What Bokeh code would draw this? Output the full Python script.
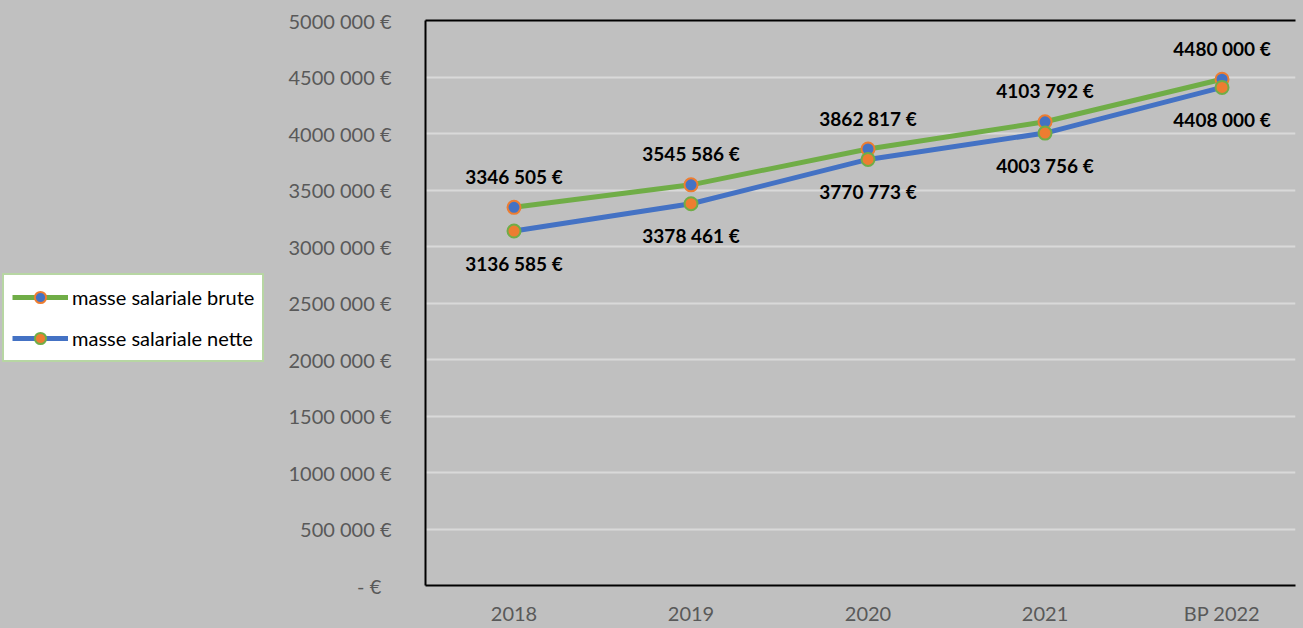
from bokeh.plotting import figure
from bokeh.models import (ColumnDataSource, FixedTicker, Range1d, Legend, LegendItem,
                          LinearAxis)
from bokeh.layouts import row
from bokeh.core.properties import value
from bokeh.embed import file_html
from bokeh.resources import INLINE

# Payroll totals per year (euros)
categories = ["2018", "2019", "2020", "2021", "BP 2022"]
brute = [3346505, 3545586, 3862817, 4103792, 4480000]
nette = [3136585, 3378461, 3770773, 4003756, 4408000]
y_ticks = [0, 500000, 1000000, 1500000, 2000000, 2500000, 3000000,
           3500000, 4000000, 4500000, 5000000]
series_names = ["masse salariale brute", "masse salariale nette"]


def euro(v):
    if v == 0:
        return "-   €"
    if v >= 1000:
        return f"{v // 1000} {v % 1000:03d} €"
    return f"{v} €"


GREEN = "#70ad47"
BLUE = "#4472c4"
ORANGE = "#ed7d31"
BG = "#c0c0c0"
FONT = "Lato"
H = 628
LEG_W = 280

xs = list(range(len(categories)))
src_b = ColumnDataSource(dict(x=xs, y=brute, lab=[euro(v) for v in brute]))
src_n = ColumnDataSource(dict(x=xs, y=nette, lab=[euro(v) for v in nette]))

# ---- main chart -------------------------------------------------------
p = figure(width=1303 - LEG_W, height=H, output_backend="svg", toolbar_location=None,
           x_range=Range1d(-0.5, 4.415), y_range=Range1d(0, 5000000),
           min_border_left=425 - LEG_W, min_border_right=8, min_border_top=20,
           min_border_bottom=43)
p.background_fill_color = BG
p.border_fill_color = BG
p.outline_line_color = None

p.xaxis.ticker = FixedTicker(ticks=xs)
p.xaxis.major_label_overrides = {i: c for i, c in enumerate(categories)}
p.yaxis.ticker = FixedTicker(ticks=y_ticks)
p.yaxis.major_label_overrides = {t: euro(t) for t in y_ticks}
for ax in (p.xaxis, p.yaxis):
    ax.axis_line_color = "black"
    ax.axis_line_width = 2
    ax.major_tick_line_color = None
    ax.minor_tick_line_color = None
    ax.major_label_text_font = FONT
    ax.major_label_text_font_size = "20px"
    ax.major_label_text_color = "#595959"
p.yaxis.major_label_standoff = 28
p.xaxis.major_label_standoff = 9

top = LinearAxis(ticker=FixedTicker(ticks=[]), axis_line_color="black",
                 axis_line_width=2, major_tick_line_color=None,
                 minor_tick_line_color=None)
p.add_layout(top, "above")

p.xgrid.grid_line_color = None
p.ygrid.grid_line_color = "#d9d9d9"
p.ygrid.grid_line_width = 2

p.line("x", "y", source=src_b, line_color=GREEN, line_width=5)
p.scatter("x", "y", source=src_b, size=13, fill_color=BLUE,
          line_color=ORANGE, line_width=2)
p.line("x", "y", source=src_n, line_color=BLUE, line_width=5)
p.scatter("x", "y", source=src_n, size=13, fill_color=ORANGE,
          line_color=GREEN, line_width=2)

p.text("x", "y", text="lab", source=src_b, y_offset=-31, text_align="center",
       text_baseline="middle", text_font=value(FONT), text_font_style="bold",
       text_font_size="19px", text_color="black")
p.text("x", "y", text="lab", source=src_n, y_offset=32, text_align="center",
       text_baseline="middle", text_font=value(FONT), text_font_style="bold",
       text_font_size="19px", text_color="black")

# ---- legend panel on the left ------------------------------------------
lg = figure(width=LEG_W, height=H, output_backend="svg", toolbar_location=None,
            x_range=Range1d(0, 1), y_range=Range1d(0, 1),
            x_axis_location=None, y_axis_location=None, min_border=0)
lg.background_fill_color = None
lg.border_fill_color = BG
lg.outline_line_color = None
lg.grid.visible = False

# key glyphs only: a single undefined point, so nothing is plotted
key = ColumnDataSource(dict(x=[float("nan")], y=[float("nan")]))
kb_l = lg.line("x", "y", source=key, line_color=GREEN, line_width=5)
kb_s = lg.scatter("x", "y", source=key, size=13, fill_color=BLUE,
                  line_color=ORANGE, line_width=2)
kn_l = lg.line("x", "y", source=key, line_color=BLUE, line_width=5)
kn_s = lg.scatter("x", "y", source=key, size=13, fill_color=ORANGE,
                  line_color=GREEN, line_width=2)

legend = Legend(items=[LegendItem(label=series_names[0], renderers=[kb_l, kb_s]),
                       LegendItem(label=series_names[1], renderers=[kn_l, kn_s])],
                location=(2, 223), orientation="vertical",
                background_fill_color="white", background_fill_alpha=1,
                border_line_color=GREEN, border_line_width=2,
                label_text_font=FONT, label_text_font_size="20px",
                label_text_color="black", glyph_width=56, glyph_height=28,
                label_height=28, label_standoff=4, spacing=13, padding=8,
                margin=0)
lg.add_layout(legend, "center")

layout = row(lg, p, spacing=0, styles={"background-color": BG})
open("out.html", "w").write(file_html(layout, INLINE))
